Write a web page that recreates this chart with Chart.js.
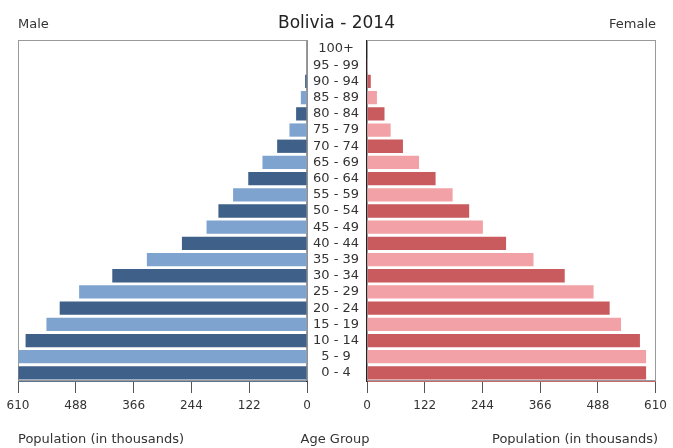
<!DOCTYPE html>
<html><head><meta charset="utf-8">
<script src="https://cdn.jsdelivr.net/npm/chart.js@4"></script>
<style>
html,body{margin:0;padding:0;background:#fff;overflow:hidden;width:673px;height:448px;}
body{position:relative;font-family:"DejaVu Sans",sans-serif;color:#333;}
.t{position:absolute;white-space:nowrap;line-height:1;}
canvas{position:absolute;top:0;}
</style></head><body>
<canvas id="m" width="330" height="448" style="left:0"></canvas>
<canvas id="f" width="366" height="448" style="left:307px"></canvas>
<div class="t" style="left:0;width:673px;text-align:center;top:14px;font-size:17px;color:#222;">Bolivia - 2014</div>
<div class="t" style="left:18px;top:17px;font-size:13px;">Male</div>
<div class="t" style="right:17px;top:17px;font-size:13px;">Female</div>
<div class="t" style="left:18px;top:432px;font-size:13px;">Population (in thousands)</div>
<div class="t" style="left:0;width:670px;text-align:center;top:432px;font-size:13px;">Age Group</div>
<div class="t" style="left:492px;top:432px;width:170px;overflow:hidden;font-size:13px;">Population (in thousands)</div>
<script>
const ageGroups = ["100+","95 - 99","90 - 94","85 - 89","80 - 84","75 - 79","70 - 74","65 - 69","60 - 64","55 - 59","50 - 54","45 - 49","40 - 44","35 - 39","30 - 34","25 - 29","20 - 24","15 - 19","10 - 14","5 - 9","0 - 4"];
const male   = [0, 1, 4, 13, 23, 37, 63, 94, 124, 156, 187, 212, 264, 338, 411, 481, 522, 550, 594, 609, 609];
const female = [0, 2, 8, 21, 37, 50, 76, 110, 145, 181, 216, 245, 294, 352, 418, 479, 513, 537, 577, 590, 590];
const xTicks = [0, 122, 244, 366, 488, 610];

const FONT = "DejaVu Sans";
const maleColors = ageGroups.map((_, i) => i % 2 === 0 ? '#3f6089' : '#7ea3cf');
const femaleColors = ageGroups.map((_, i) => i % 2 === 0 ? '#c95a5e' : '#f2a2a6');

const boxPlugin = {
  id: 'box',
  beforeDatasetsDraw(chart) {
    const {ctx, chartArea: a} = chart;
    ctx.save();
    ctx.strokeStyle = '#9a9a9a';
    ctx.lineWidth = 1;
    ctx.strokeRect(Math.round(a.left) + 0.5, Math.round(a.top) - 0.5, Math.round(a.right - a.left) - 1, Math.round(a.bottom - a.top));
    ctx.restore();
  }
};

function xScale(reverse, lineColor) {
  return {
    type: 'linear', min: 0, max: 610, reverse: reverse,
    afterBuildTicks: s => { s.ticks = xTicks.map(v => ({value: v})); },
    grid: {drawOnChartArea: false, drawTicks: true, tickLength: 12, color: '#555'},
    border: {display: true, color: lineColor, width: 1},
    ticks: {font: {family: FONT, size: 12}, color: '#333', padding: 6, maxRotation: 0, autoSkip: false},
    afterFit: s => { s.height = 30; }
  };
}

new Chart(document.getElementById('m'), {
  type: 'bar',
  data: {labels: ageGroups, datasets: [{data: male, backgroundColor: maleColors, borderWidth: 0, barPercentage: 0.82, categoryPercentage: 1}]},
  options: {
    indexAxis: 'y', responsive: false, animation: false,
    layout: {padding: {left: 18, right: 23, top: 41, bottom: 37}},
    plugins: {legend: {display: false}, tooltip: {enabled: false}},
    scales: {
      x: xScale(true, '#5d7393'),
      y: {position: 'right', grid: {display: false}, ticks: {display: false},
          border: {display: true, color: '#222', width: 1.5}, afterFit: s => { s.width = 0; }}
    }
  },
  plugins: [boxPlugin]
});

new Chart(document.getElementById('f'), {
  type: 'bar',
  data: {labels: ageGroups, datasets: [{data: female, backgroundColor: femaleColors, borderWidth: 0, barPercentage: 0.82, categoryPercentage: 1}]},
  options: {
    indexAxis: 'y', responsive: false, animation: false,
    layout: {padding: {left: 0, right: 17, top: 41, bottom: 37}},
    plugins: {legend: {display: false}, tooltip: {enabled: false}},
    scales: {
      x: xScale(false, '#c46a6c'),
      y: {position: 'left', grid: {display: false},
          ticks: {font: {family: FONT, size: 13}, color: '#333', crossAlign: 'center', padding: 0, autoSkip: false},
          border: {display: true, color: '#222', width: 1.5}, afterFit: s => { s.width = 60; }}
    }
  },
  plugins: [boxPlugin]
});
</script>
</body></html>
